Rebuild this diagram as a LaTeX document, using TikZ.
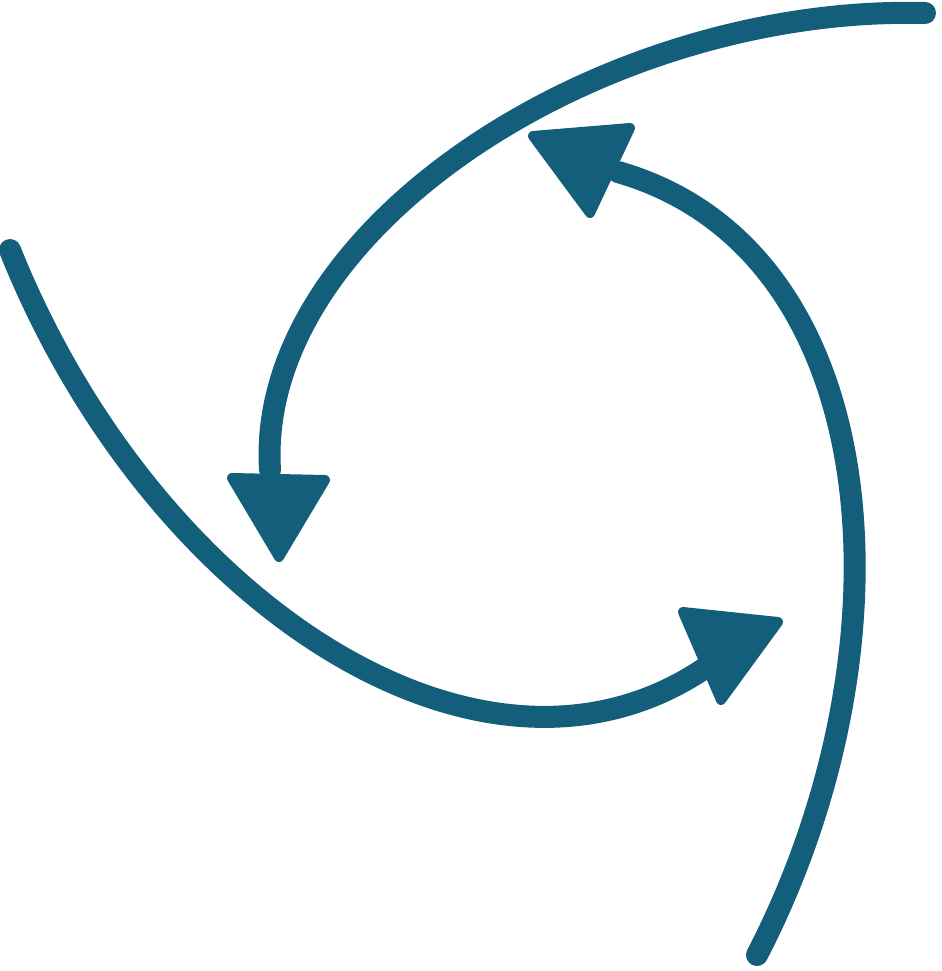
\documentclass[tikz,border=0pt]{standalone}
\usepackage{tikz}
\usetikzlibrary{calc}
\definecolor{arrowteal}{RGB}{19,94,122}
\tikzstyle{arrowline} = [draw=arrowteal,line width=22*0.02cm,line cap=round]
\tikzstyle{arrowhead} = [draw=arrowteal,fill=arrowteal,line width=10*0.02cm,line join=round]

\begin{document}
\begin{tikzpicture}[x=0.02cm,y=-0.02cm]
    \useasboundingbox (0,0) rectangle (942,971);
    % Three curved arrows, turning round
    % First the shafts
    \coordinate (S1) at (925,13);
    \coordinate (E1) at (270,470);
    \coordinate (S2) at (10,250);
    \coordinate (E2) at (705,668);
    \coordinate (S3) at (757,955);
    \coordinate (E3) at (618,172);
    \path[arrowline] (S1) .. controls (600,5) and (255,230) .. (E1);
    \path[arrowline] (S2) .. controls (150,600) and (480,820) .. (E2);
    \path[arrowline] (S3) .. controls (915,650) and (890,250) .. (E3);
    % Then the heads
    \path[arrowhead] (232,478) -- (325,480) -- (279,557) -- cycle;
    \path[arrowhead] (683,612) -- (778,622) -- (721,700) -- cycle;
    \path[arrowhead] (533,136) -- (630,128) -- (590,213) -- cycle;
\end{tikzpicture}
\end{document}
